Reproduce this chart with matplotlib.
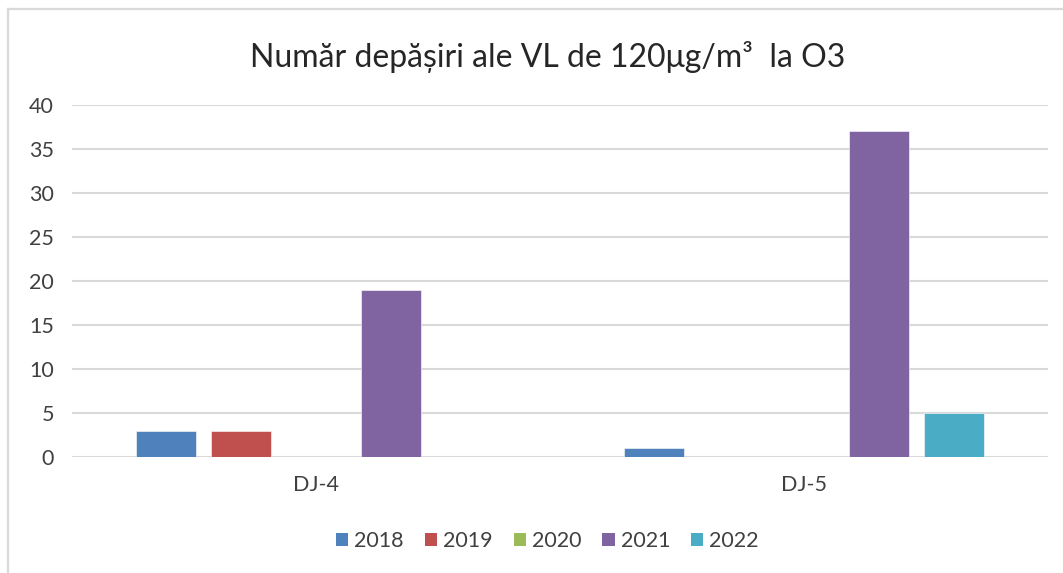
import numpy as np
import matplotlib.pyplot as plt
from matplotlib.patches import Patch
from matplotlib.lines import Line2D

plt.rcParams["font.family"] = ["Lato", "DejaVu Sans"]

stations = ["DJ-4", "DJ-5"]
years = ["2018", "2019", "2020", "2021", "2022"]
counts = {
    "2018": [3, 1],
    "2019": [3, 0],
    "2020": [0, 0],
    "2021": [19, 37],
    "2022": [0, 5],
}
colors = ["#4F81BD", "#C0504D", "#9BBB59", "#8064A2", "#4BACC6"]
yticks = [0, 5, 10, 15, 20, 25, 30, 35, 40]

W, H = 1063, 573
fig = plt.figure(figsize=(W / 100, H / 100), dpi=100)
ax = fig.add_axes([72 / W, 1 - 457 / H, (1048 - 72) / W, (457 - 105) / H])

x = np.arange(len(stations))
slot = 0.1537
width = 0.121
for i, (yr, c) in enumerate(zip(years, colors)):
    ax.bar(x + (i - 2) * slot, counts[yr], width, color=c, zorder=3,
           edgecolor="white", linewidth=0.4)

ax.set_xlim(-0.5, 1.5)
ax.set_ylim(0, 40)
ax.set_yticks(yticks)
ax.set_xticks(x)
ax.set_xticklabels(stations)
ax.yaxis.grid(True, color="#d9d9d9", linewidth=1.5, zorder=0)
ax.set_axisbelow(True)
for s in ax.spines.values():
    s.set_visible(False)
ax.tick_params(axis="y", length=0, pad=13, labelsize=15.5, labelcolor="#404040")
ax.tick_params(axis="x", length=0, pad=13, labelsize=15.5, labelcolor="#404040")

fig.text(548 / W, 1 - 57 / H, "Număr depășiri ale VL de 120μg/m³  la O3",
         ha="center", va="center", fontsize=23, color="#262626")

# chart frame
fig.add_artist(Line2D([8 / W, 8 / W], [0, 1 - 9 / H], transform=fig.transFigure,
                      color="#d9d9d9", linewidth=1.6))
fig.add_artist(Line2D([8 / W, 1], [1 - 9 / H, 1 - 9 / H], transform=fig.transFigure,
                      color="#d9d9d9", linewidth=1.6))

handles = [Patch(facecolor=c, edgecolor="none", label=yr) for yr, c in zip(years, colors)]
fig.legend(handles=handles, loc="center", bbox_to_anchor=(547.5 / W, 1 - 541 / H),
           ncol=5, frameon=False, fontsize=15.5, handlelength=0.56, handleheight=0.56,
           handletextpad=0.28, columnspacing=0.98, labelcolor="#404040")

fig.savefig("out.png", dpi=100, facecolor="white")
